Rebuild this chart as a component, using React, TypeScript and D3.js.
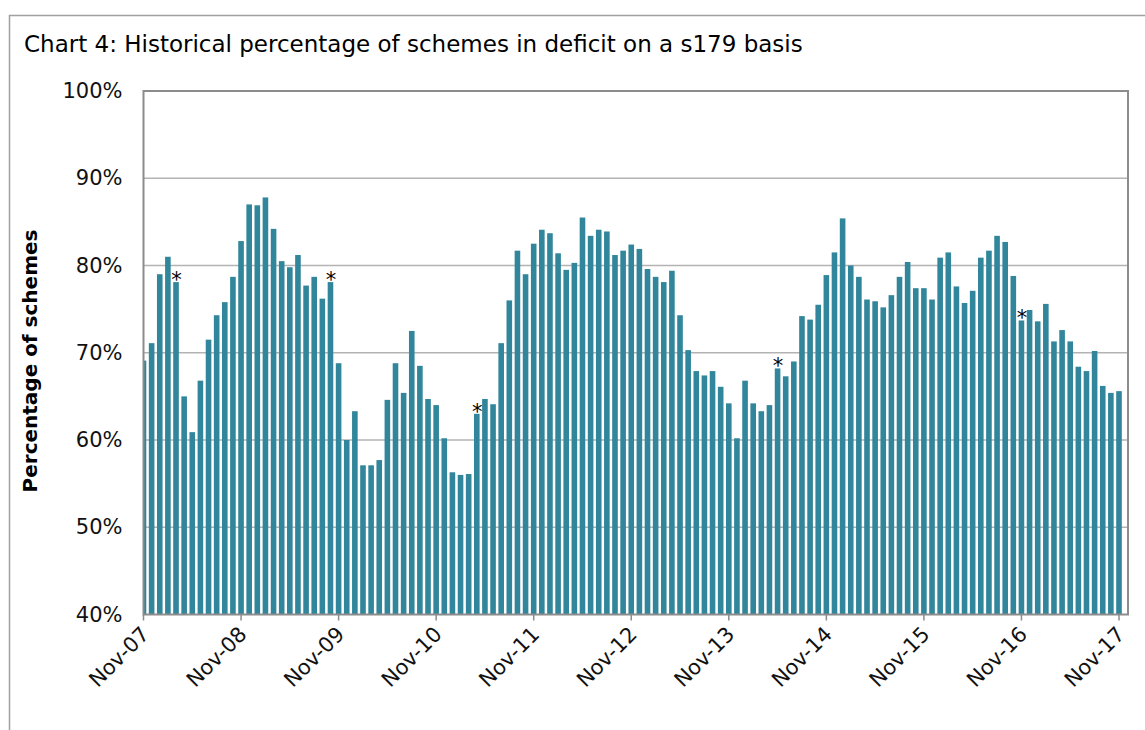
import React, { useEffect, useRef } from "react";
import * as d3 from "d3";

// monthly % of schemes in deficit, Nov-07 .. Nov-17
const deficitPct = [
  69.1, 71.1, 79.0, 81.0, 78.1, 65.0, 60.9, 66.8, 71.5, 74.3, 75.8, 78.7,
  82.8, 87.0, 86.9, 87.8, 84.2, 80.5, 79.8, 81.2, 77.7, 78.7, 76.2, 78.1,
  68.8, 60.0, 63.3, 57.1, 57.1, 57.7, 64.6, 68.8, 65.4, 72.5, 68.5, 64.7,
  64.0, 60.2, 56.3, 56.0, 56.1, 63.0, 64.7, 64.1, 71.1, 76.0, 81.7, 79.0,
  82.5, 84.1, 83.7, 81.4, 79.5, 80.3, 85.5, 83.4, 84.1, 83.9, 81.2, 81.7,
  82.4, 81.9, 79.6, 78.7, 78.1, 79.4, 74.3, 70.3, 67.9, 67.4, 67.9, 66.1,
  64.2, 60.2, 66.8, 64.2, 63.3, 64.0, 68.2, 67.3, 69.0, 74.2, 73.8, 75.5,
  78.9, 81.5, 85.4, 80.0, 78.7, 76.1, 75.9, 75.2, 76.6, 78.7, 80.4, 77.4,
  77.4, 76.1, 80.9, 81.5, 77.6, 75.7, 77.1, 80.9, 81.7, 83.4, 82.7, 78.8,
  73.7, 74.9, 73.6, 75.6, 71.3, 72.6, 71.3, 68.4, 67.9, 70.2, 66.2, 65.4,
  65.6,
];
const yearLabels = ["Nov-07", "Nov-08", "Nov-09", "Nov-10", "Nov-11", "Nov-12",
  "Nov-13", "Nov-14", "Nov-15", "Nov-16", "Nov-17"];
const starredMonths = [4, 23, 41, 78, 108];
const yTicks = [40, 50, 60, 70, 80, 90, 100];

const FONT = "'DejaVu Sans', Verdana, sans-serif";

export default function App() {
  const ref = useRef<SVGSVGElement>(null);

  useEffect(() => {
    const svg = d3.select(ref.current);
    svg.selectAll("*").remove();

    const left = 143.5, right = 1128, top = 91, bottom = 614.5;
    const xs = d3.scaleLinear().domain([0, 120]).range([143.5, 1119]);
    const ys = d3.scaleLinear().domain([40, 100]).range([bottom, top]);
    const bw = 5.6;

    // outer frame
    svg.append("rect")
      .attr("x", 9.5).attr("y", 15.5).attr("width", 1150).attr("height", 730)
      .attr("fill", "none").attr("stroke", "#a0a0a0").attr("stroke-width", 1.5);

    svg.append("text")
      .attr("x", 24).attr("y", 52)
      .style("font-family", FONT).style("font-size", "23px")
      .text("Chart 4: Historical percentage of schemes in deficit on a s179 basis");

    svg.append("defs").append("clipPath").attr("id", "plotclip")
      .append("rect").attr("x", left).attr("y", top)
      .attr("width", right - left).attr("height", bottom - top);

    // gridlines
    svg.append("g").selectAll("line")
      .data(yTicks.filter(d => d > 40 && d < 100))
      .join("line")
      .attr("x1", left).attr("x2", right)
      .attr("y1", d => ys(d)).attr("y2", d => ys(d))
      .attr("stroke", "#b3b3b3").attr("stroke-width", 1.5);

    // bars
    svg.append("g").attr("clip-path", "url(#plotclip)")
      .selectAll("rect")
      .data(deficitPct)
      .join("rect")
      .attr("x", (d, i) => xs(i) - bw / 2)
      .attr("y", d => ys(d))
      .attr("width", bw)
      .attr("height", d => ys(40) - ys(d))
      .attr("fill", "#31869b");

    // asterisks
    svg.append("g").selectAll("text")
      .data(starredMonths)
      .join("text")
      .attr("x", i => xs(i) + 0.5)
      .attr("y", i => ys(deficitPct[i]) + 5)
      .attr("text-anchor", "middle")
      .style("font-family", FONT).style("font-size", "21px")
      .text("*");

    // plot border
    svg.append("rect")
      .attr("x", left).attr("y", top)
      .attr("width", right - left).attr("height", bottom - top)
      .attr("fill", "none").attr("stroke", "#8c8c8c").attr("stroke-width", 2);

    // y axis labels
    const yAxis = svg.append("g")
      .attr("transform", `translate(${left},0)`)
      .call(d3.axisLeft(ys).tickValues(yTicks).tickFormat(d => d + "%").tickSize(0).tickPadding(21));
    yAxis.select(".domain").remove();
    yAxis.selectAll("text")
      .style("font-family", FONT).style("font-size", "21px").attr("fill", "#111");

    // x axis ticks + rotated labels
    const yearIdx = yearLabels.map((_, k) => k * 12);
    svg.append("g").selectAll("line")
      .data(yearIdx)
      .join("line")
      .attr("x1", d => xs(d)).attr("x2", d => xs(d))
      .attr("y1", bottom).attr("y2", bottom + 6)
      .attr("stroke", "#8c8c8c").attr("stroke-width", 1.5);

    svg.append("g").selectAll("text")
      .data(yearIdx)
      .join("text")
      .attr("transform", (d) => `translate(${xs(d) + 7},${bottom + 21}) rotate(-45)`)
      .attr("text-anchor", "end")
      .style("font-family", FONT).style("font-size", "21px").attr("fill", "#111")
      .text((d, k) => yearLabels[k]);

    svg.append("text")
      .attr("transform", `translate(37,361) rotate(-90)`)
      .attr("text-anchor", "middle")
      .style("font-family", FONT).style("font-size", "20px").style("font-weight", "bold")
      .text("Percentage of schemes");
  }, []);

  return (
    <svg ref={ref} width={1145} height={730}
      style={{ position: "absolute", left: 0, top: 0, background: "#fff" }} />
  );
}
